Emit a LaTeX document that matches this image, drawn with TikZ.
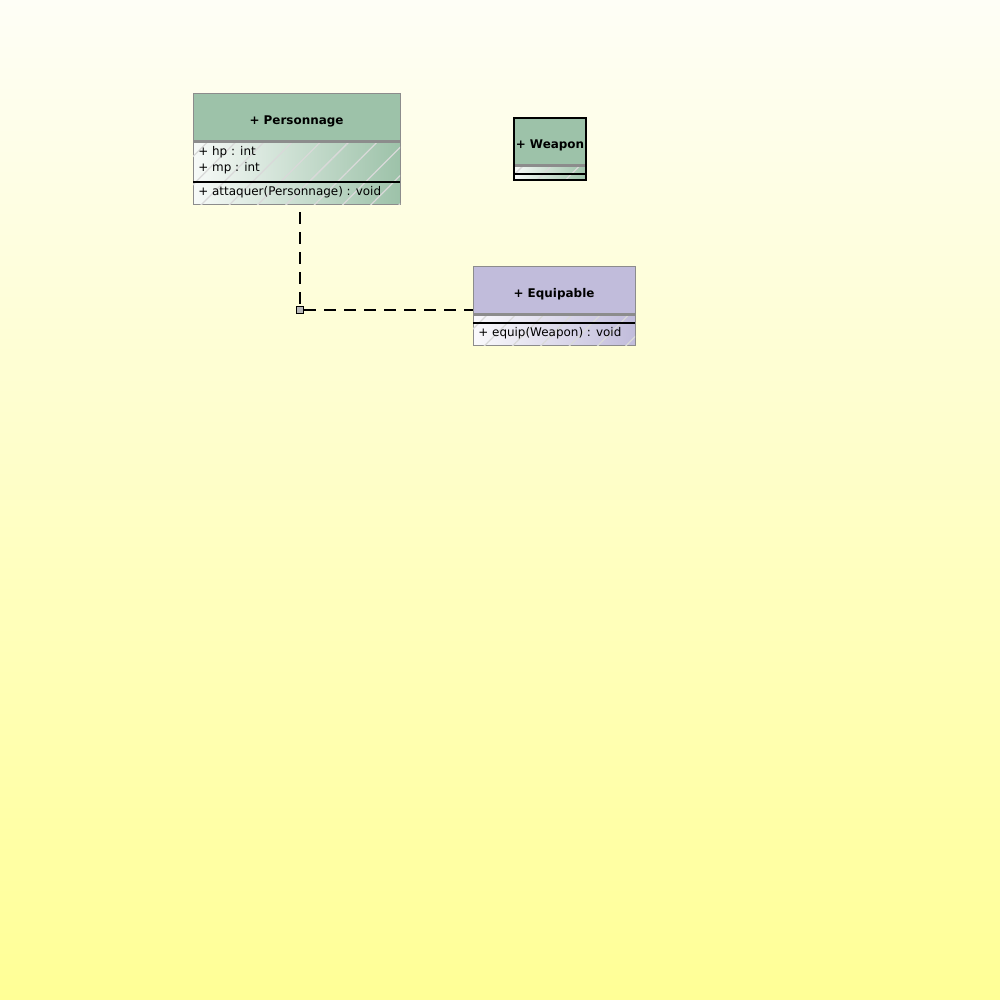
\documentclass[tikz,border=0pt]{standalone}
\usepackage{fontspec}
\setmainfont{DejaVu Sans}
\usetikzlibrary{patterns.meta}

\definecolor{bgtop}{RGB}{254,254,246}
\definecolor{bgbot}{RGB}{255,255,150}
\definecolor{clsgreen}{RGB}{157,194,169}
\definecolor{clsviolet}{RGB}{193,188,219}
\definecolor{sepgray}{RGB}{140,140,140}

\begin{document}
\begin{tikzpicture}[
  x=0.2mm, y=-0.2mm,
  box/.style={draw=gray!90,line width=0.2mm,anchor=north west,inner sep=0pt,outer sep=0pt},
  hnode/.style={box,font=\fontsize{6.8}{8}\selectfont\bfseries,text height=2.9mm,text depth=0pt},
  bnode/.style={box,left color=white!92!#1,right color=#1,
    postaction={pattern={Lines[angle=45,distance=4mm,line width=0.25mm]},pattern color=white!70!gray}},
  item/.style={anchor=west,inner sep=0pt,font=\fontsize{6.8}{8}\selectfont},
  gsep/.style={draw=sepgray,line width=0.6mm},
  bsep/.style={draw=black,line width=0.4mm},
  dep/.style={draw=black,line width=0.45mm,dash pattern=on 2.4mm off 1.6mm},
  corner/.style={draw=black,fill=gray!55,line width=0.2mm,minimum size=1.4mm,inner sep=0pt}
]
  % background
  \shade[top color=bgtop,bottom color=bgbot] (0,0) rectangle (1000,1000);

  % Personnage
  \node[hnode,fill=clsgreen,minimum width=41.4mm,minimum height=9.6mm] (persH) at (193,93) {+ Personnage};
  \node[bnode=clsgreen,minimum width=41.4mm,minimum height=8.2mm] (persA) at (193,141) {};
  \node[bnode=clsgreen,minimum width=41.4mm,minimum height=4.4mm] (persM) at (193,182) {};
  \draw[gsep] (persH.south west) -- (persH.south east);
  \draw[bsep] (persA.south west) -- (persA.south east);
  \node[item] (hp) at (198,152) {+ hp : int};
  \node[item] (mp) at (198,168) {+ mp : int};
  \node[item] (atk) at (198,192) {+ attaquer(Personnage) : void};

  % Weapon
  \node[hnode,fill=clsgreen,minimum width=14.4mm,minimum height=9.4mm] (weapH) at (514,118) {+ Weapon};
  \node[bnode=clsgreen,minimum width=14.4mm,minimum height=1.8mm] (weapA) at (514,165) {};
  \node[bnode=clsgreen,minimum width=14.4mm,minimum height=1.2mm] (weapM) at (514,174) {};
  \draw[gsep] (weapH.south west) -- (weapH.south east);
  \draw[bsep] (weapA.south west) -- (weapA.south east);
  \draw[line width=0.4mm] (weapH.north west) rectangle (weapM.south east);

  % Equipable
  \node[hnode,fill=clsviolet,minimum width=32.4mm,minimum height=9.6mm] (eqH) at (473,266) {+ Equipable};
  \node[bnode=clsviolet,minimum width=32.4mm,minimum height=1.8mm] (eqA) at (473,314) {};
  \node[bnode=clsviolet,minimum width=32.4mm,minimum height=4.4mm] (eqM) at (473,323) {};
  \draw[gsep] (eqH.south west) -- (eqH.south east);
  \draw[bsep] (eqA.south west) -- (eqA.south east);
  \node[item] (equip) at (478,333) {+ equip(Weapon) : void};

  % realization
  \coordinate (depstart) at (300,212);
  \node[corner] (bend) at (300,310) {};
  \draw[dep] (depstart) -- (bend);
  \draw[dep] (bend) -- (bend -| eqH.west);
\end{tikzpicture}
\end{document}
